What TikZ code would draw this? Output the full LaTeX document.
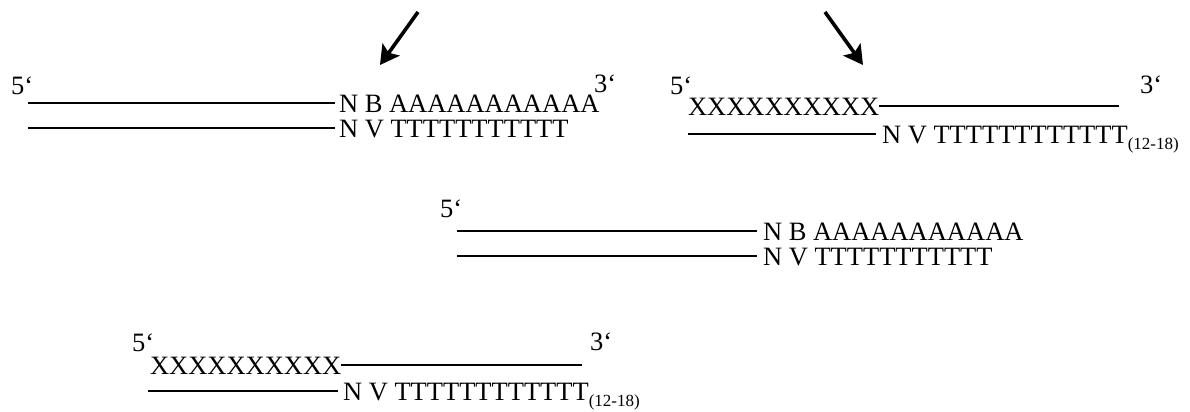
\documentclass[tikz,border=0pt]{standalone}
\usepackage{fontspec}
\setmainfont{Liberation Serif}
\usetikzlibrary{arrows.meta}
\begin{document}
\begin{tikzpicture}[x=1bp,y=-1bp,
  seq/.style={font=\fontsize{26.5bp}{30bp}\selectfont, inner sep=0pt, outer sep=0pt, anchor=base west},
  strand/.style={line width=1.8bp},
  pointer/.style={line width=3.6bp, -{Stealth[length=19bp,width=21bp,inset=4bp]}}
]
\useasboundingbox (0,0) rectangle (1190,411);
\newcommand{\rng}{\raisebox{-6.5bp}{\fontsize{17bp}{19bp}\selectfont(12-18)}}

% arrows
\coordinate (arrL0) at (418,12);
\coordinate (arrL1) at (380,65);
\coordinate (arrR0) at (825,12);
\coordinate (arrR1) at (863,65);
\draw[pointer] (arrL0) -- (arrL1);
\draw[pointer] (arrR0) -- (arrR1);

% block 1
\node[seq] (b1five) at (11,94) {5‘};
\node[seq] (b1three) at (594,92) {3‘};
\coordinate (b1s1) at (28,103);
\coordinate (b1s2) at (28,128);
\coordinate (b1e) at (335,0);
\node[seq] (b1top) at (339,112) {N B AAAAAAAAAAA};
\node[seq] (b1bot) at (339,137) {N V TTTTTTTTTTT};
\draw[strand] (b1s1) -- (b1s1 -| b1e);
\draw[strand] (b1s2) -- (b1s2 -| b1e);

% block 2
\node[seq] (b2five) at (670,94) {5‘};
\node[seq] (b2three) at (1140,93) {3‘};
\node[seq] (b2x) at (688,115) {XXXXXXXXXX};
\coordinate (b2e) at (1119,0);
\draw[strand] (b2x.east) -- (b2x.east -| b2e);
\coordinate (b2s2) at (688,134);
\coordinate (b2m) at (876,0);
\node[seq] (b2bot) at (882,143) {N V TTTTTTTTTTTT\rng};
\draw[strand] (b2s2) -- (b2s2 -| b2m);

% block 3
\node[seq] (b3five) at (440,217) {5‘};
\coordinate (b3s1) at (457,231);
\coordinate (b3s2) at (457,256);
\coordinate (b3e) at (757,0);
\node[seq] (b3top) at (763,240) {N B AAAAAAAAAAA};
\node[seq] (b3bot) at (763,265) {N V TTTTTTTTTTT};
\draw[strand] (b3s1) -- (b3s1 -| b3e);
\draw[strand] (b3s2) -- (b3s2 -| b3e);

% block 4
\node[seq] (b4five) at (132,351) {5‘};
\node[seq] (b4three) at (590,350) {3‘};
\node[seq] (b4x) at (150,374) {XXXXXXXXXX};
\coordinate (b4e) at (582,0);
\draw[strand] (b4x.east) -- (b4x.east -| b4e);
\coordinate (b4s2) at (148,391);
\coordinate (b4m) at (338,0);
\node[seq] (b4bot) at (343,400) {N V TTTTTTTTTTTT\rng};
\draw[strand] (b4s2) -- (b4s2 -| b4m);
\end{tikzpicture}
\end{document}
